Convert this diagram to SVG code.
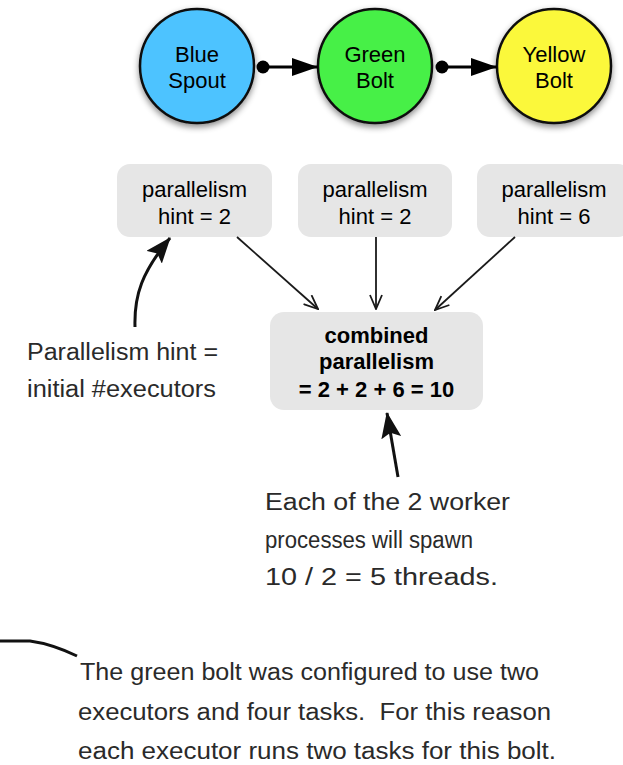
<svg xmlns="http://www.w3.org/2000/svg" width="623" height="765" viewBox="0 0 623 765">
<style>
.node text{font-family:"Liberation Sans",Arial,sans-serif;font-size:22px;fill:#000;text-anchor:middle}
.circ{stroke:#111;stroke-width:2.5}
.box{fill:#e6e6e6}
.bold{font-weight:bold}
.hand{font-family:"Liberation Sans",Arial,sans-serif;font-size:23px;fill:#2a2a2a}
.thin{fill:none;stroke:#1a1a1a;stroke-width:1.8}
.thick{fill:none;stroke:#111;stroke-width:3}
.flow{fill:none;stroke:#000;stroke-width:3}
</style>
<defs>
<filter id="sh" x="-20%" y="-20%" width="140%" height="150%">
<feDropShadow dx="0" dy="3" stdDeviation="3" flood-color="#000" flood-opacity="0.45"/>
</filter>
<marker id="tri" viewBox="0 0 26 18" refX="26" refY="9" markerWidth="26" markerHeight="18" markerUnits="userSpaceOnUse" orient="auto">
<path d="M0,0 L26,9 L0,18 Z" fill="#000"/>
</marker>
<marker id="dot" viewBox="0 0 14 14" refX="7" refY="7" markerWidth="14" markerHeight="14" markerUnits="userSpaceOnUse">
<circle cx="7" cy="7" r="6.5" fill="#000"/>
</marker>
<marker id="open" viewBox="0 0 16 14" refX="15" refY="7" markerWidth="16" markerHeight="14" markerUnits="userSpaceOnUse" orient="auto">
<path d="M1,1 L15,7 L1,13" fill="none" stroke="#1a1a1a" stroke-width="1.8"/>
</marker>
<marker id="fill" viewBox="0 0 26 20" refX="25" refY="10" markerWidth="26" markerHeight="20" markerUnits="userSpaceOnUse" orient="auto">
<path d="M0,0 L26,10 L0,20 L5,10 Z" fill="#111"/>
</marker>
</defs>

<g id="blue-spout" class="node">
<circle class="circ" cx="197" cy="66" r="57" fill="#4dc3ff" filter="url(#sh)"/>
<text x="197" y="62">Blue</text>
<text x="197" y="88">Spout</text>
</g>
<g id="green-bolt" class="node">
<circle class="circ" cx="375" cy="66" r="57" fill="#46f046" filter="url(#sh)"/>
<text x="375" y="62">Green</text>
<text x="375" y="88">Bolt</text>
</g>
<g id="yellow-bolt" class="node">
<circle class="circ" cx="554" cy="66" r="57" fill="#fbf83a" filter="url(#sh)"/>
<text x="554" y="62">Yellow</text>
<text x="554" y="88">Bolt</text>
</g>

<g id="hint-blue" class="node">
<rect class="box" x="117" y="164" width="155" height="73" rx="13"/>
<text x="194.5" y="197">parallelism</text>
<text x="194.5" y="224">hint = 2</text>
</g>
<g id="hint-green" class="node">
<rect class="box" x="298" y="164" width="154" height="73" rx="13"/>
<text x="375" y="197">parallelism</text>
<text x="375" y="224">hint = 2</text>
</g>
<g id="hint-yellow" class="node">
<rect class="box" x="477" y="164" width="154" height="73" rx="13"/>
<text x="554" y="197">parallelism</text>
<text x="554" y="224">hint = 6</text>
</g>
<g id="combined" class="node">
<rect class="box" x="270" y="312" width="213" height="98" rx="14"/>
<text class="bold" x="376.5" y="343">combined</text>
<text class="bold" x="376.5" y="369">parallelism</text>
<text class="bold" x="376.5" y="397">= 2 + 2 + 6 = 10</text>
</g>

<g id="connectors">
<line class="flow" x1="263" y1="67" x2="318" y2="67" marker-start="url(#dot)" marker-end="url(#tri)"/>
<line class="flow" x1="442" y1="67" x2="497" y2="67" marker-start="url(#dot)" marker-end="url(#tri)"/>
<line class="thin" x1="237" y1="237" x2="318" y2="309" marker-end="url(#open)"/>
<line class="thin" x1="376" y1="237" x2="376" y2="309" marker-end="url(#open)"/>
<line class="thin" x1="515" y1="237" x2="435" y2="310" marker-end="url(#open)"/>
<path class="thick" d="M135,327 C134,295 142,272 170,238" marker-end="url(#fill)"/>
<path class="thick" d="M398,477 L387,413" marker-end="url(#fill)"/>
<path class="thick" stroke-width="2.5" d="M0,641 L30,641 Q52,644 77,656"/>
</g>

<g id="notes">
<text class="hand" x="27" y="360" textLength="191" lengthAdjust="spacingAndGlyphs">Parallelism hint =</text>
<text class="hand" x="27" y="397" textLength="189" lengthAdjust="spacingAndGlyphs">initial #executors</text>
<text class="hand" x="265" y="510" textLength="245" lengthAdjust="spacingAndGlyphs">Each of the 2 worker</text>
<text class="hand" x="265" y="548" textLength="208" lengthAdjust="spacingAndGlyphs">processes will spawn</text>
<text class="hand" x="265" y="585" textLength="233" lengthAdjust="spacingAndGlyphs">10 / 2 = 5 threads.</text>
<text class="hand" x="80" y="680" textLength="459" lengthAdjust="spacingAndGlyphs">The green bolt was configured to use two</text>
<text class="hand" x="78" y="720" textLength="473" lengthAdjust="spacingAndGlyphs" xml:space="preserve">executors and four tasks.  For this reason</text>
<text class="hand" x="78" y="759" textLength="478" lengthAdjust="spacingAndGlyphs">each executor runs two tasks for this bolt.</text>
</g>
</svg>
